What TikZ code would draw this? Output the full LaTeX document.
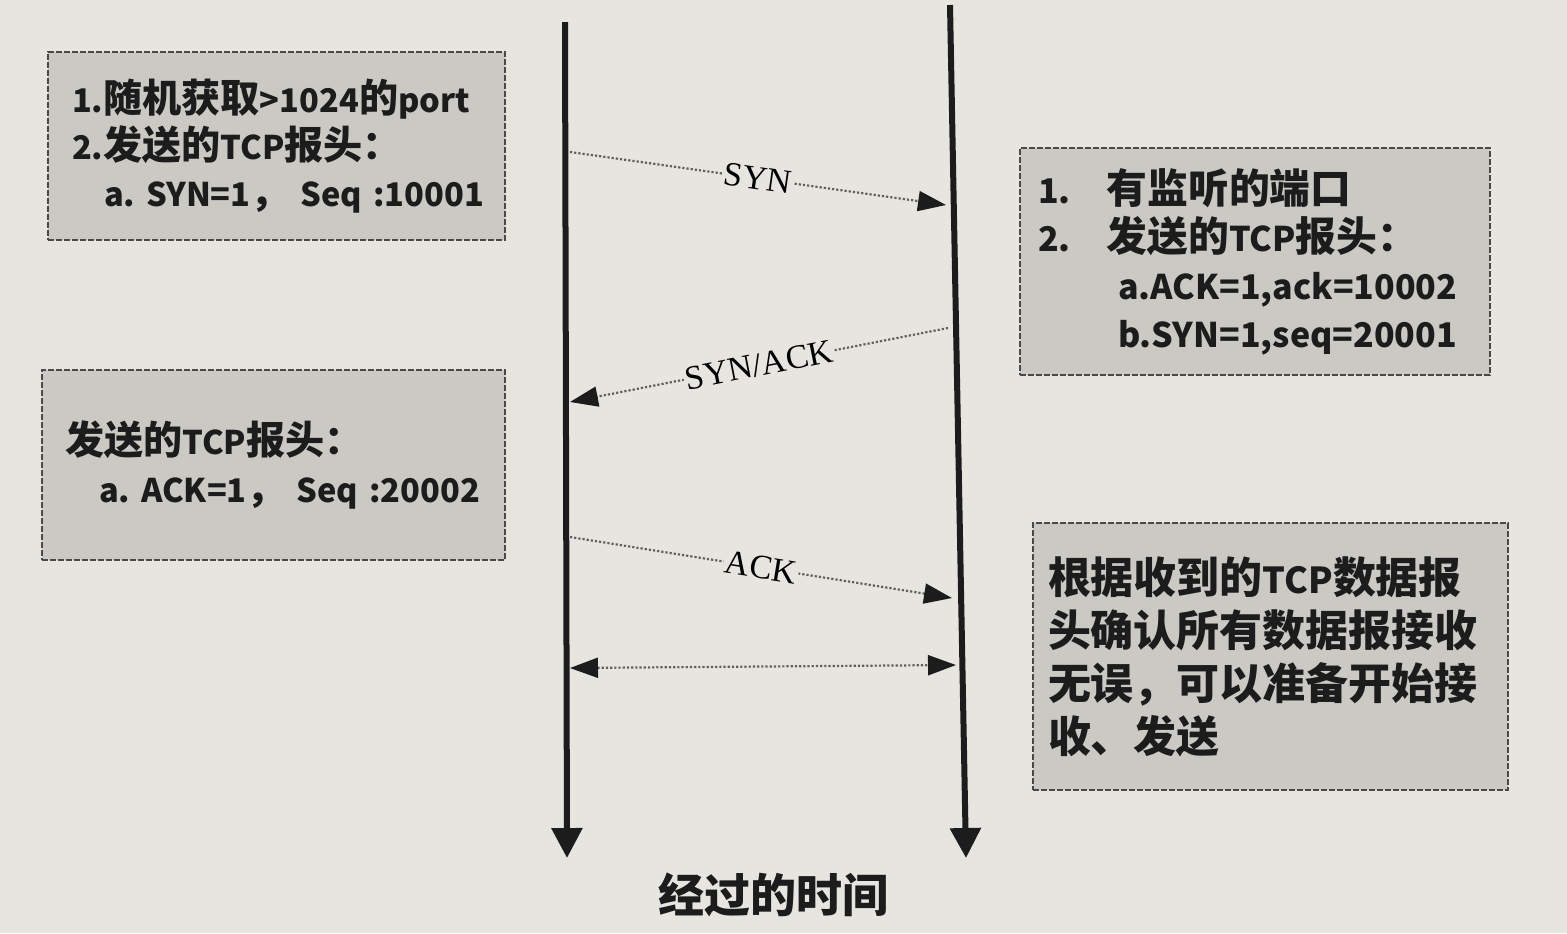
\documentclass[tikz,border=0pt]{standalone}
\usepackage{fontspec}
\newfontfamily\cjk{Noto Sans CJK SC}
\newfontfamily\cjkz{Noto Sans CJK SC}[Scale=1.2]
\newfontfamily\serifl{Liberation Serif}
\newcommand\zh[1]{{\cjkz\bfseries #1}}
\usetikzlibrary{arrows.meta}
\definecolor{paper}{RGB}{231,229,224}
\definecolor{boxfill}{RGB}{203,201,196}
\definecolor{ink}{RGB}{28,28,28}
\begin{document}
\begin{tikzpicture}[x=0.5pt,y=-0.5pt,
  infobox/.style={draw=ink!80, line width=0.6pt, dash pattern=on 3pt off 1pt,
    fill=boxfill, align=left, inner ysep=0pt, text=ink},
  lifeline/.style={draw=ink, line width=3pt, -{Triangle[width=15pt,length=15pt]}},
  msg/.style={draw=gray!75!black, line width=1.1pt, densely dotted,
    -{Triangle[width=10pt,length=14pt,color=ink,fill=ink]}},
  msglabel/.style={fill=paper, inner sep=1pt, font=\serifl\fontsize{17}{19}\selectfont, sloped}]
\fill[paper] (0,0) rectangle (1567,933);
\useasboundingbox (0,0) rectangle (1567,933);

% lifelines
\coordinate (Ltop) at (565,22);
\coordinate (Lbot) at (567,858);
\coordinate (Rtop) at (950,5);
\coordinate (Rbot) at (966,858);
\draw[lifeline] (Ltop) -- (Lbot);
\draw[lifeline] (Rtop) -- (Rbot);

% boxes
\node[infobox, inner xsep=12pt, text width=204.5pt, minimum height=94pt,
  font=\cjk\bfseries\fontsize{16.3}{23.5}\selectfont] (b1) at (276.5,146) {%
1.\zh{随机获取}>1024\zh{的}port\\
2.\zh{发送的}TCP\zh{报头：}\\
\hspace*{16pt}a.~SYN=1\zh{，}~Seq~:10001};

\node[infobox, inner xsep=9pt, text width=217pt, minimum height=113.5pt,
  font=\cjk\bfseries\fontsize{17}{24}\selectfont] (b2) at (1255,261.5) {%
1.\hspace{18pt}\zh{有监听的端口}\\
2.\hspace{18pt}\zh{发送的}TCP\zh{报头：}\\
\hspace*{40pt}a.ACK=1,ack=10002\\
\hspace*{40pt}b.SYN=1,seq=20001};

\node[infobox, inner xsep=11.5pt, text width=208.5pt, minimum height=95pt,
  font=\cjk\bfseries\fontsize{16.3}{24}\selectfont] (b3) at (273.5,465) {%
\zh{发送的}TCP\zh{报头：}\\
\hspace*{17pt}a.~ACK=1\zh{，}~Seq~:20002};

\node[infobox, inner xsep=7.5pt, text width=222.5pt, minimum height=133.5pt,
  font=\cjk\bfseries\fontsize{17.9}{26.5}\selectfont] (b4) at (1270.5,656.5) {%
\zh{根据收到的}TCP\zh{数据报}\\
\zh{头确认所有数据报接收}\\
\zh{无误，可以准备开始接}\\
\zh{收、发送}};

% messages
\coordinate (s1) at (570,152);
\coordinate (e1) at (946,205);
\coordinate (s2) at (948,328);
\coordinate (e2) at (570,402);
\coordinate (s3) at (570,537);
\coordinate (e3) at (952,598);
\coordinate (s4) at (570,668);
\coordinate (e4) at (956,665);
\draw[msg] (s1) -- node[msglabel] {SYN} (e1);
\draw[msg] (s2) -- node[msglabel] {SYN/ACK} (e2);
\draw[msg] (s3) -- node[msglabel] {ACK} (e3);
\draw[msg, {Triangle[width=10pt,length=14pt,color=ink,fill=ink]}-{Triangle[width=10pt,length=14pt,color=ink,fill=ink]}] (s4) -- (e4);

\node[font=\cjk\bfseries\fontsize{23}{26}\selectfont, text=ink] (time) at (773,895) {经过的时间};
\end{tikzpicture}
\end{document}
